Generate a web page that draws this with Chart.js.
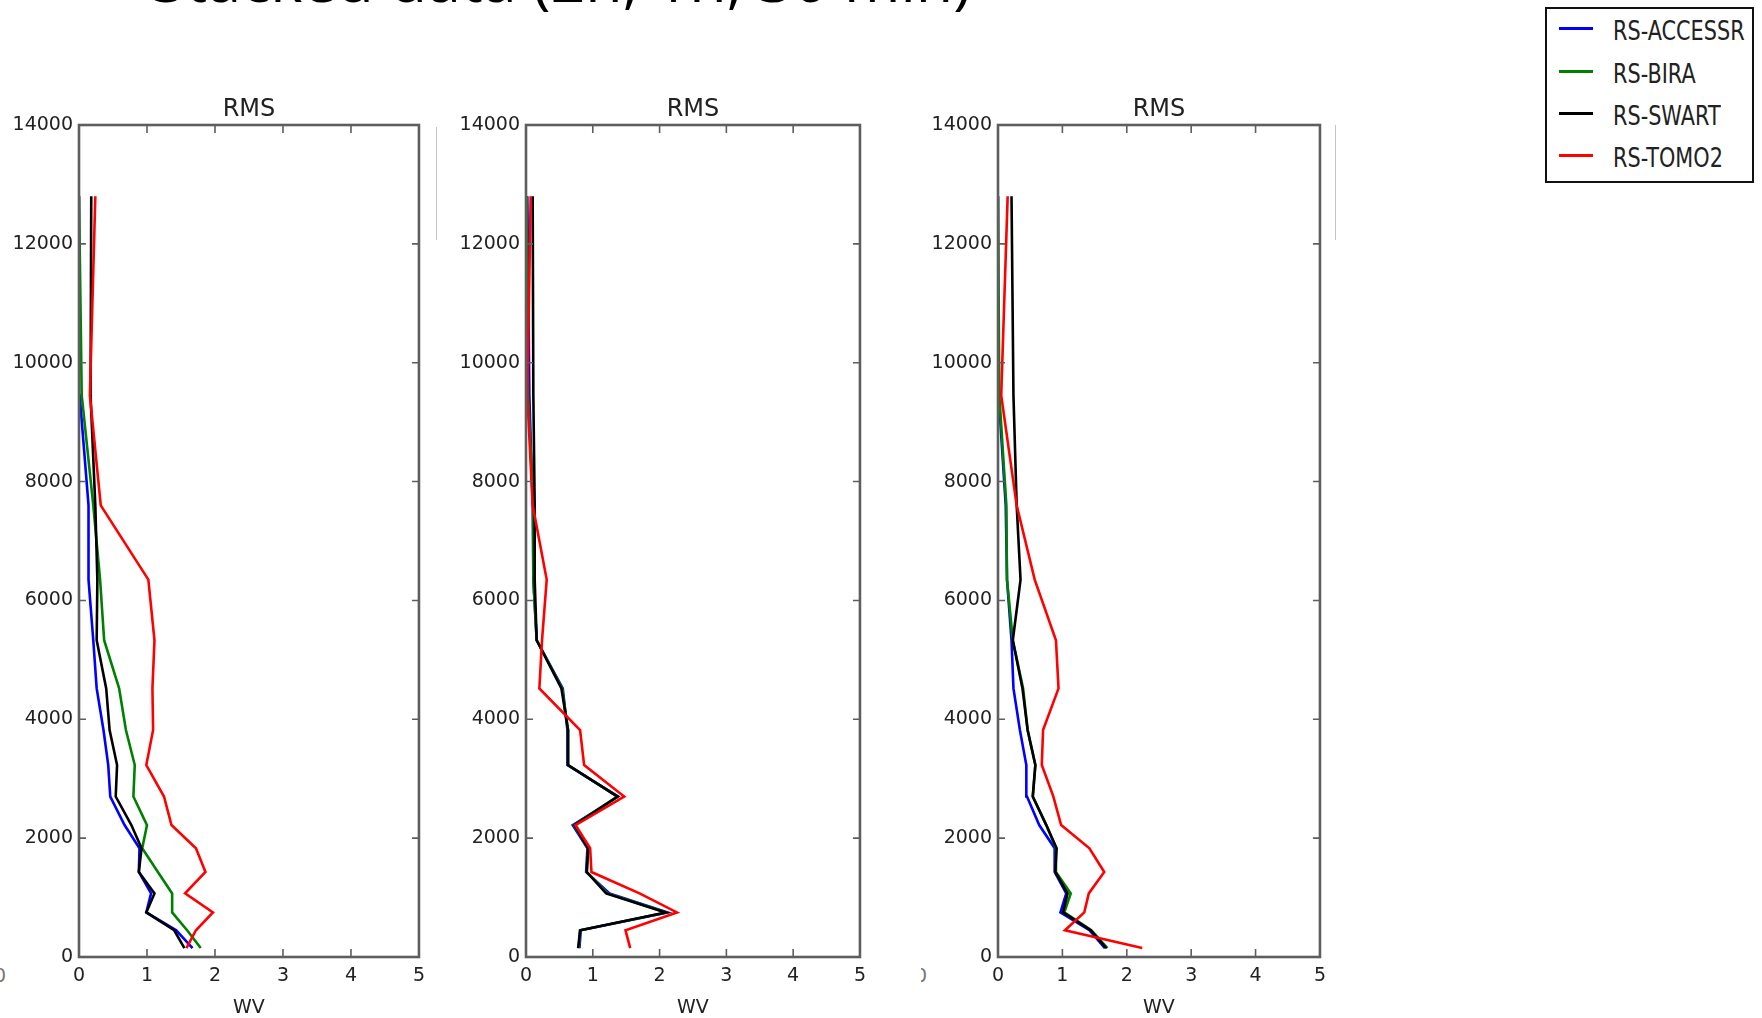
<!DOCTYPE html>
<html>
<head>
<meta charset="utf-8">
<script src="https://cdn.jsdelivr.net/npm/chart.js@4.4.1/dist/chart.umd.min.js"></script>
<style>
  body { margin: 0; background: #fff; }
  #page { position: relative; width: 1762px; height: 1018px; overflow: hidden; background: #fff; font-family: "DejaVu Sans", sans-serif; }
  .panel { position: absolute; top: 0; }
  #heading { position: absolute; left: 152px; top: -21px; font-family: "Open Sans", sans-serif; font-size: 61px; line-height: 0; white-space: nowrap; color: #000; }
  #legend { position: absolute; left: 1545px; top: 7px; width: 205px; height: 172px; border: 2px solid #111; background: #fff; }
  .swatch { position: absolute; left: 12px; width: 34px; height: 3px; }
  .name { position: absolute; left: 66px; height: 30px; line-height: 30px; font-size: 26px; transform: scaleX(0.8); transform-origin: left center; white-space: nowrap; color: #222; }
  .ghost { position: absolute; width: 1px; background: #c4c4c4; }
  .stub { position: absolute; width: 8px; height: 24px; overflow: hidden; }
  .stub span { position: absolute; left: -6px; top: 0; font-size: 19px; color: #777; }
</style>
</head>
<body>
<div id="page">
  <div id="heading">Stacked data (2h, 1h, 30 min)</div>
  <div class="ghost" style="left:436px; top:127px; height:113px;"></div>
  <div class="ghost" style="left:1335px; top:125px; height:115px;"></div>
  <div class="stub" style="left:0px; top:964px;"><span>0</span></div>
  <div class="stub" style="left:921px; top:964px;"><span>0</span></div>
  <div class="panel" id="p1"><canvas id="c1"></canvas></div>
  <div class="panel" id="p2"><canvas id="c2"></canvas></div>
  <div class="panel" id="p3"><canvas id="c3"></canvas></div>
  <div id="legend"></div>
</div>
<script>
// height levels (m) shared by every profile
const heights = [150, 450, 750, 1070, 1430, 1830, 2220, 2700, 3230, 3820, 4520, 5330, 6350, 7600, 9450, 12800];

const seriesNames = ["RS-ACCESSR", "RS-BIRA", "RS-SWART", "RS-TOMO2"];
const seriesColors = ["#0000ff", "#008000", "#000000", "#ff0000"];

// RMS of WV per level, 2h stacking
const accessr2h = [1.67, 1.43, 0.99, 1.06, 0.88, 0.89, 0.67, 0.46, 0.43, 0.36, 0.26, 0.21, 0.14, 0.14, 0.01, 0.0];
const bira2h    = [1.79, 1.59, 1.37, 1.37, 1.16, 0.93, 1.00, 0.80, 0.82, 0.69, 0.59, 0.37, 0.31, 0.21, 0.04, 0.0];
const swart2h   = [1.55, 1.40, 0.99, 1.11, 0.88, 0.92, 0.77, 0.54, 0.56, 0.45, 0.40, 0.26, 0.27, 0.24, 0.17, 0.18];
const tomo2h    = [1.58, 1.72, 1.97, 1.56, 1.86, 1.72, 1.36, 1.25, 0.99, 1.09, 1.08, 1.11, 1.02, 0.32, 0.16, 0.24];

// 1h stacking
const accessr1h = [0.80, 0.82, 2.12, 1.25, 0.90, 0.92, 0.70, 1.38, 0.62, 0.62, 0.55, 0.16, 0.11, 0.10, 0.05, 0.02];
const bira1h    = [0.79, 0.81, 2.10, 1.22, 0.91, 0.93, 0.72, 1.37, 0.63, 0.63, 0.54, 0.16, 0.11, 0.11, 0.03, 0.01];
const swart1h   = [0.78, 0.81, 2.09, 1.20, 0.91, 0.93, 0.73, 1.37, 0.63, 0.63, 0.53, 0.16, 0.13, 0.13, 0.11, 0.10];
const tomo1h    = [1.56, 1.49, 2.26, 1.70, 0.98, 0.96, 0.74, 1.47, 0.87, 0.81, 0.20, 0.24, 0.31, 0.10, 0.02, 0.07];

// 30 min stacking
const accessr30m = [1.66, 1.42, 0.97, 1.06, 0.88, 0.88, 0.64, 0.45, 0.44, 0.34, 0.24, 0.21, 0.14, 0.12, 0.01, 0.0];
const bira30m    = [1.70, 1.45, 1.03, 1.13, 0.90, 0.90, 0.75, 0.54, 0.58, 0.46, 0.39, 0.23, 0.14, 0.13, 0.02, 0.0];
const swart30m   = [1.68, 1.44, 1.01, 1.08, 0.89, 0.91, 0.75, 0.54, 0.58, 0.46, 0.38, 0.23, 0.35, 0.29, 0.24, 0.21];
const tomo30m    = [2.24, 1.04, 1.34, 1.41, 1.65, 1.42, 0.98, 0.86, 0.68, 0.70, 0.94, 0.90, 0.57, 0.29, 0.05, 0.15];

const xTicks = [0, 1, 2, 3, 4, 5];
const yTicks = [0, 2000, 4000, 6000, 8000, 10000, 12000, 14000];

const panels = [
  { id: "c1", wrap: "p1", left: 79, right: 421, values: [accessr2h, bira2h, swart2h, tomo2h] },
  { id: "c2", wrap: "p2", left: 526, right: 862, values: [accessr1h, bira1h, swart1h, tomo1h] },
  { id: "c3", wrap: "p3", left: 998, right: 1322, values: [accessr30m, bira30m, swart30m, tomo30m] },
];

const AXIS_W = 79;   // room for the y tick labels
const AXIS_H = 61;   // room for x tick labels + "WV"
const PAD_R = 12;

// box round the plot with matplotlib-style inward ticks on all four sides
const framePlugin = {
  id: "frame",
  afterDatasetsDraw(chart) {
    const { ctx, chartArea: a, scales: { x, y } } = chart;
    ctx.save();
    ctx.strokeStyle = "#5e5e5e";
    ctx.lineWidth = 1.6;
    ctx.beginPath();
    xTicks.forEach(v => {
      const px = x.getPixelForValue(v);
      ctx.moveTo(px, a.top); ctx.lineTo(px, a.top + 8);
      ctx.moveTo(px, a.bottom); ctx.lineTo(px, a.bottom - 8);
    });
    yTicks.forEach(v => {
      const py = y.getPixelForValue(v);
      ctx.moveTo(a.left, py); ctx.lineTo(a.left + 7, py);
      ctx.moveTo(a.right, py); ctx.lineTo(a.right - 7, py);
    });
    ctx.stroke();
    ctx.lineWidth = 2.6;
    ctx.strokeRect(a.left, a.top, a.right - a.left, a.bottom - a.top);
    ctx.restore();
  }
};

Chart.defaults.font.family = "'DejaVu Sans', sans-serif";

panels.forEach(p => {
  const w = p.right - p.left + AXIS_W + PAD_R;
  const wrap = document.getElementById(p.wrap);
  wrap.style.left = (p.left - AXIS_W) + "px";
  const canvas = document.getElementById(p.id);
  canvas.width = w;
  canvas.height = 1018;

  const datasets = seriesNames.map((name, i) => ({
    label: name,
    data: heights.map((h, k) => ({ x: p.values[i][k], y: h })),
    borderColor: seriesColors[i],
    borderWidth: 2.6,
    pointRadius: 0,
    tension: 0,
    fill: false,
    order: seriesNames.length - i,
  }));

  new Chart(canvas.getContext("2d"), {
    type: "line",
    data: { datasets: datasets },
    options: {
      responsive: false,
      animation: false,
      layout: { padding: { left: 0, right: PAD_R, top: 0, bottom: 0 } },
      plugins: {
        legend: { display: false },
        tooltip: { enabled: false },
        title: {
          display: true,
          fullSize: false,
          text: "RMS",
          color: "#222",
          font: { size: 24, weight: "normal" },
          padding: { top: 95.4, bottom: 0.8 },
        },
      },
      scales: {
        x: {
          type: "linear",
          min: 0,
          max: 5,
          afterBuildTicks: s => { s.ticks = xTicks.map(v => ({ value: v })); },
          afterFit: s => { s.height = AXIS_H; },
          grid: { display: false, drawTicks: false },
          border: { display: false },
          ticks: { padding: 8, color: "#222", font: { size: 19 }, maxRotation: 0, autoSkip: false, callback: v => String(v) },
          title: { display: true, text: "WV", color: "#222", font: { size: 19, lineHeight: 1 }, padding: { top: 0, bottom: 0 } },
        },
        y: {
          type: "linear",
          min: 0,
          max: 14000,
          afterBuildTicks: s => { s.ticks = yTicks.map(v => ({ value: v })); },
          afterFit: s => { s.width = AXIS_W; },
          grid: { display: false, drawTicks: false },
          border: { display: false },
          ticks: { padding: 6, color: "#222", font: { size: 19 }, autoSkip: false, callback: v => String(v) },
        },
      },
    },
    plugins: [framePlugin],
  });
});

// legend box on the right
const legend = document.getElementById("legend");
const rowCenters = [19, 62, 104, 146];
seriesNames.forEach((name, i) => {
  const sw = document.createElement("div");
  sw.className = "swatch";
  sw.style.top = (rowCenters[i] - 1.5) + "px";
  sw.style.background = seriesColors[i];
  legend.appendChild(sw);
  const label = document.createElement("div");
  label.className = "name";
  label.style.top = (rowCenters[i] - 12) + "px";
  label.textContent = name;
  legend.appendChild(label);
});
</script>
</body>
</html>
